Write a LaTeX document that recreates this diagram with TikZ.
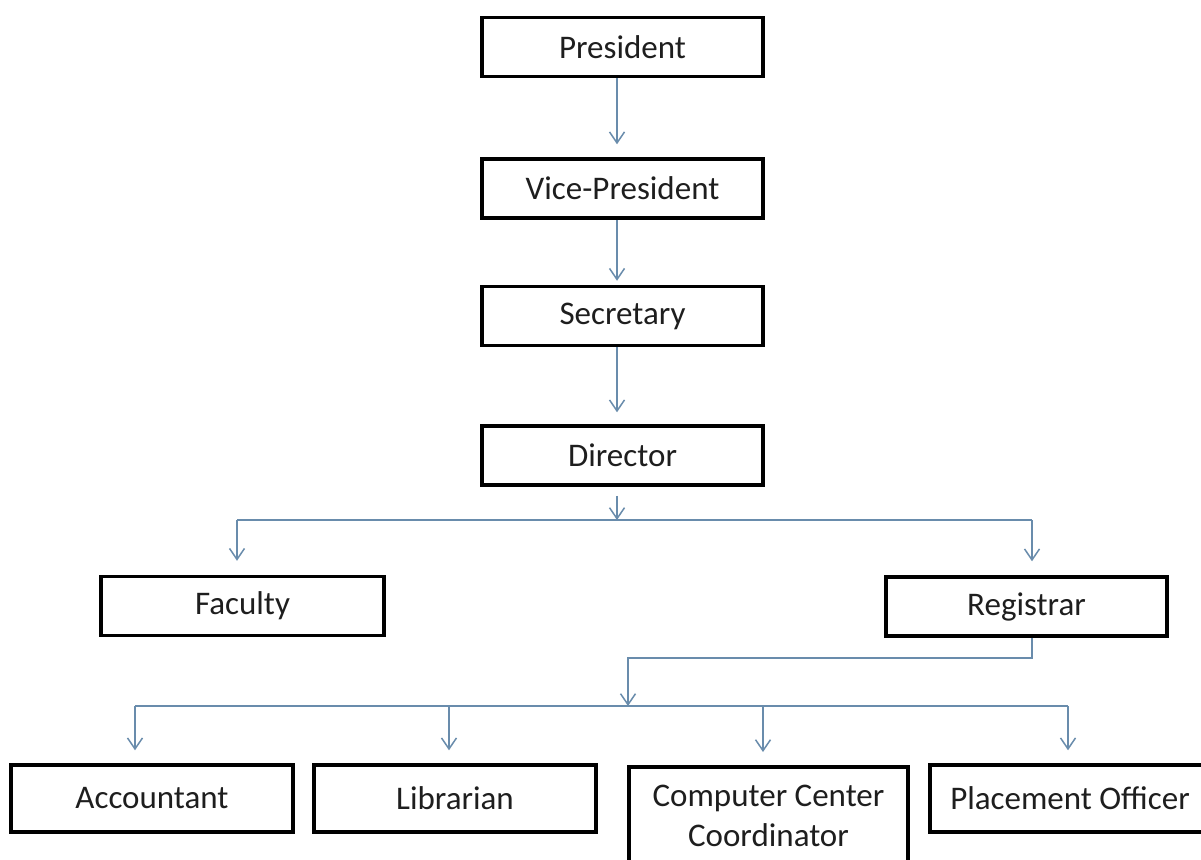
\documentclass[tikz,border=0pt]{standalone}
\usepackage{fontspec}
\setmainfont{Carlito}
\usetikzlibrary{arrows.meta}
\definecolor{connc}{RGB}{105,140,172}
\definecolor{txt}{RGB}{30,30,30}
\begin{document}
\begin{tikzpicture}[x=1pt,y=-1pt,
  box/.style={draw=black, line width=3.5pt, fill=white, minimum width=281pt, minimum height=59pt,
    inner sep=0pt, font=\fontsize{33}{40}\selectfont, text=txt, align=center},
  link/.style={draw=connc, line width=1.5pt},
  arr/.style={link, -{Straight Barb[length=11pt,width=15pt,line width=1.5pt]}}]
\useasboundingbox (0,0) rectangle (1201,859);
\fill[white] (0,0) rectangle (1201,859);
\clip (0,0) rectangle (1201,859);

% boxes
\node[box] (pres) at (622.5,47) {President};
\node[box] (vp) at (622.5,188.5) {Vice-President};
\node[box] (sec) at (622.5,316) {Secretary};
\node[box] (dir) at (622.5,455.5) {Director};
\node[box, minimum width=283pt] (fac) at (242.5,606) {Faculty};
\node[box] (reg) at (1026.5,606.5) {Registrar};
\node[box, minimum width=282pt, minimum height=67pt] (acc) at (152,798.5) {Accountant};
\node[box, minimum width=282pt, minimum height=67pt] (lib) at (455,798.5) {Librarian};
\node[box, minimum width=279pt, anchor=north, inner ysep=18pt, text depth=30pt] (ccc) at (768.5,765) {Computer Center\\Coordinator};
\node[box, minimum width=280pt, minimum height=67pt] (plc) at (1070,798.5) {Placement Officer};

% helper coordinates
\coordinate (cx) at (617,0);
\coordinate (bus1) at (617,520);
\coordinate (bL) at (237,520);
\coordinate (bR) at (1032,520);
\coordinate (r1) at (1032,658);
\coordinate (r2) at (628,658);
\coordinate (bus2) at (628,706);
\coordinate (c1) at (135,706);
\coordinate (c2) at (449,706);
\coordinate (c3) at (763,706);
\coordinate (c4) at (1068,706);

% vertical chain
\draw[arr, shorten >=13pt] (pres.south -| cx) -- (vp.north -| cx);
\draw[arr, shorten >=4pt] (vp.south -| cx) -- (sec.north -| cx);
\draw[arr, shorten >=12pt] (sec.south -| cx) -- (dir.north -| cx);

% director to faculty / registrar
\draw[arr, shorten <=9pt] (dir.south -| cx) -- (bus1);
\draw[link] (bL) -- (bR);
\draw[arr, shorten >=14pt] (bL) -- (fac.north -| bL);
\draw[arr, shorten >=14pt] (bR) -- (reg.north -| bR);

% registrar to staff
\draw[arr] (reg.south -| r1) -- (r1) -- (r2) -- (bus2);
\draw[link] (c1) -- (c4);
\draw[arr, shorten >=13pt] (c1) -- (acc.north -| c1);
\draw[arr, shorten >=13pt] (c2) -- (lib.north -| c2);
\draw[arr, shorten >=13pt] (c3) -- (ccc.north -| c3);
\draw[arr, shorten >=13pt] (c4) -- (plc.north -| c4);
\end{tikzpicture}
\end{document}
